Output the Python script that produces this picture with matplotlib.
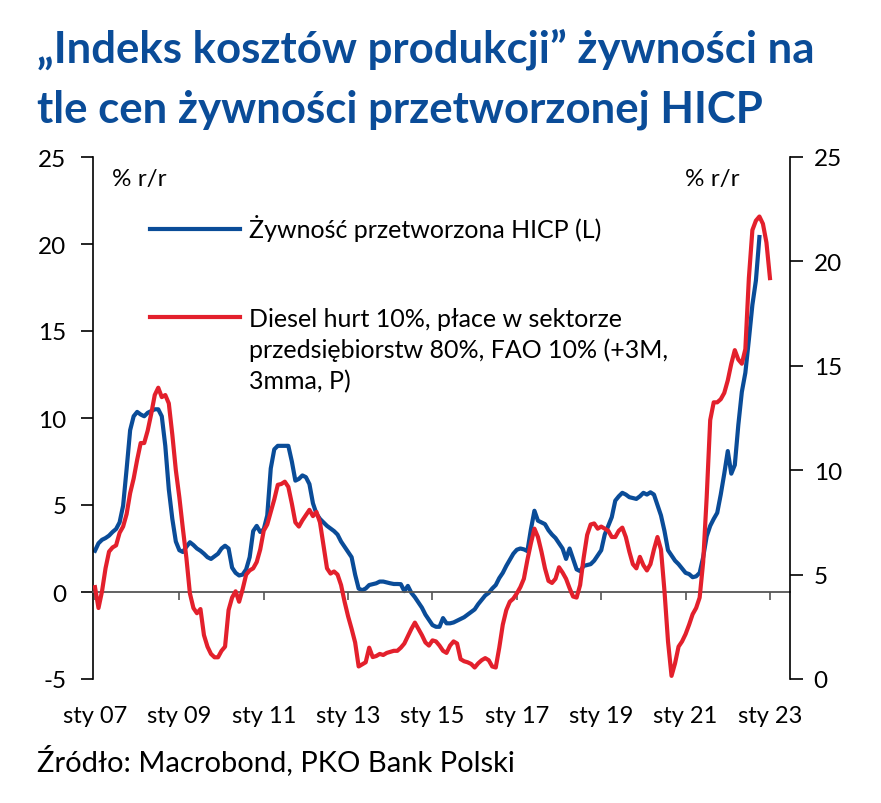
import matplotlib
matplotlib.use("Agg")
import matplotlib.pyplot as plt
from matplotlib.lines import Line2D

# ---------------- data ----------------
start_year = 2007  # both series start Jan 2007, monthly

# Żywność przetworzona HICP, % r/r (left axis)
hicp_processed_food = [
    2.37, 2.8, 3.0, 3.1, 3.24, 3.45, 3.62, 4.0, 4.96, 7.07,
    9.3, 10.1, 10.35, 10.2, 10.1, 10.3, 10.4, 10.5, 10.5, 10.1,
    8.4, 5.9, 4.2, 2.9, 2.4, 2.3, 2.6, 2.86, 2.7, 2.5,
    2.37, 2.2, 2.0, 1.9, 2.05, 2.2, 2.5, 2.66, 2.5, 1.4,
    1.1, 0.95, 1.0, 1.3, 2.0, 3.5, 3.8, 3.45, 3.6, 4.4,
    7.1, 8.2, 8.4, 8.4, 8.4, 8.4, 7.5, 6.4, 6.5, 6.7,
    6.6, 6.2, 5.1, 4.5, 4.2, 4.0, 3.8, 3.65, 3.5, 3.3,
    2.9, 2.6, 2.3, 2.0, 1.0, 0.2, 0.1, 0.2, 0.4, 0.45,
    0.5, 0.6, 0.6, 0.55, 0.5, 0.46, 0.46, 0.45, 0.05, 0.35,
    -0.05, -0.3, -0.6, -0.9, -1.3, -1.6, -1.9, -2.0, -2.0, -1.5,
    -1.8, -1.8, -1.75, -1.65, -1.55, -1.45, -1.3, -1.15, -1.0, -0.7,
    -0.45, -0.2, -0.05, 0.2, 0.4, 0.8, 1.1, 1.5, 1.85, 2.2,
    2.43, 2.5, 2.45, 2.35, 3.6, 4.67, 4.1, 4.0, 3.9, 3.55,
    3.3, 3.1, 2.8, 2.5, 1.9, 2.5, 1.9, 1.3, 1.2, 1.5,
    1.55, 1.6, 1.8, 2.1, 2.4, 3.3, 3.8, 4.3, 5.25, 5.5,
    5.7, 5.6, 5.45, 5.4, 5.35, 5.5, 5.7, 5.6, 5.73, 5.6,
    5.0, 4.4, 3.5, 2.4, 2.1, 1.8, 1.6, 1.35, 1.1, 1.03,
    0.85, 0.9, 1.1, 2.0, 3.2, 3.8, 4.2, 4.55, 5.6, 6.8,
    8.1, 6.8, 7.3, 9.6, 11.5, 12.6, 14.5, 16.5, 17.9, 20.4,
]

# Diesel hurt 10%, płace 80%, FAO 10% (+3M, 3mma), % r/r (right axis)
cost_index = [
    4.4, 3.4, 4.2, 5.3, 6.1, 6.3, 6.4, 7.0, 7.3, 7.9,
    8.9, 9.6, 10.5, 11.3, 11.3, 11.9, 12.7, 13.6, 13.95, 13.5,
    13.6, 13.2, 11.7, 10.0, 8.7, 7.2, 5.8, 4.1, 3.4, 3.15,
    3.35, 2.1, 1.55, 1.2, 1.04, 1.04, 1.35, 1.55, 3.3, 3.9,
    4.2, 3.7, 4.3, 5.0, 5.2, 5.3, 5.6, 6.2, 7.1, 7.4,
    8.0, 8.6, 9.3, 9.34, 9.45, 9.2, 8.4, 7.5, 7.3, 7.6,
    7.85, 8.1, 7.8, 8.0, 7.5, 6.4, 5.3, 5.05, 5.15, 5.0,
    4.5, 3.7, 3.0, 2.4, 1.75, 0.6, 0.7, 0.8, 1.5, 1.05,
    1.1, 1.2, 1.15, 1.25, 1.3, 1.35, 1.35, 1.5, 1.7, 2.05,
    2.4, 2.7, 2.4, 2.1, 1.75, 1.6, 1.85, 1.8, 1.6, 1.35,
    1.25, 1.6, 1.8, 1.7, 0.95, 0.85, 0.8, 0.72, 0.55, 0.75,
    0.9, 1.0, 0.9, 0.6, 0.55, 1.5, 2.6, 3.3, 3.7, 3.85,
    4.1, 4.4, 4.8, 5.7, 6.5, 7.2, 6.8, 6.1, 5.3, 4.7,
    4.6, 4.8, 5.35, 5.1, 4.8, 4.35, 3.95, 3.9, 4.5, 5.8,
    6.9, 7.4, 7.45, 7.2, 7.3, 7.2, 7.1, 6.8, 6.8, 7.1,
    7.25, 6.8, 6.1, 5.5, 5.3, 5.85, 5.45, 5.2, 5.5, 6.2,
    6.8, 6.2, 4.2, 1.8, 0.15, 0.75, 1.55, 1.8, 2.15, 2.6,
    3.1, 3.4, 3.9, 5.6, 8.7, 12.4, 13.25, 13.25, 13.4, 13.7,
    14.3, 15.1, 15.75, 15.3, 15.1, 15.8, 19.2, 21.5, 21.95, 22.15,
    21.8, 20.9, 19.2,
]

tick_years = [2007, 2009, 2011, 2013, 2015, 2017, 2019, 2021, 2023]
tick_labels = ["sty 07", "sty 09", "sty 11", "sty 13", "sty 15",
               "sty 17", "sty 19", "sty 21", "sty 23"]
left_ticks = [-5, 0, 5, 10, 15, 20, 25]
right_ticks = [0, 5, 10, 15, 20, 25]

title_lines = ["\u201eIndeks kosztów produkcji\u201d żywności na",
               "tle cen żywności przetworzonej HICP"]
label_blue = "Żywność przetworzona HICP (L)"
label_red = ["Diesel hurt 10%, płace w sektorze",
             "przedsiębiorstw 80%, FAO 10% (+3M,",
             "3mma, P)"]
source = "Źródło: Macrobond, PKO Bank Polski"

# ---------------- styling ----------------
BLUE = "#0a4c98"
RED = "#e3202c"
FONT = "Lato"
plt.rcParams["font.family"] = [FONT, "DejaVu Sans"]
plt.rcParams["axes.unicode_minus"] = False

x_b = [start_year + i / 12 for i in range(len(hicp_processed_food))]
x_r = [start_year + i / 12 for i in range(len(cost_index))]

W, H = 881, 804
fig = plt.figure(figsize=(W / 100, H / 100), dpi=100)
ax = fig.add_axes([93 / W, (H - 680) / H, 697 / W, 522 / H])
ax2 = ax.twinx()

ax.plot(x_b, hicp_processed_food, color=BLUE, lw=3.0, solid_joinstyle="round")
ax2.plot(x_r, cost_index, color=RED, lw=3.0, solid_joinstyle="round")

ax.set_xlim(2006.953, 2023.475)
ax.set_ylim(-5, 25)
ax2.set_ylim(0, 25)

# spines
ax.spines["top"].set_visible(False)
ax.spines["right"].set_visible(False)
ax.spines["left"].set_color("black")
ax.spines["left"].set_linewidth(1.2)
ax.spines["bottom"].set_position(("data", 0))
ax.spines["bottom"].set_color("#555555")
ax.spines["bottom"].set_linewidth(1.3)
for s in ["top", "bottom", "left"]:
    ax2.spines[s].set_visible(False)
ax2.spines["right"].set_color("black")
ax2.spines["right"].set_linewidth(1.2)

# x ticks on zero line, labels at bottom
ax.set_xticks(tick_years)
ax.tick_params(axis="x", direction="out", length=6, width=1.2,
               color="#555555", labelbottom=False)
sec = ax.secondary_xaxis(0)
sec.set_xticks(tick_years, tick_labels)
sec.tick_params(axis="x", length=0, pad=19, labelsize=17)
sec.spines["bottom"].set_visible(False)

ax.set_yticks(left_ticks)
ax.tick_params(axis="y", direction="out", length=9, width=1.2, labelsize=17.5, pad=10)
ax2.set_yticks(right_ticks)
ax2.tick_params(axis="y", direction="out", length=9, width=1.2, labelsize=17.5, pad=8)

ax.text(0.027, 0.958, "% r/r", transform=ax.transAxes, fontsize=17.5,
        ha="left", va="center")
ax.text(0.928, 0.958, "% r/r", transform=ax.transAxes, fontsize=17.5,
        ha="right", va="center")

# legends
LEG_FS = 18
h_blue = Line2D([], [], color=BLUE, lw=3.0)
h_red = Line2D([], [], color=RED, lw=3.0)
h_none = Line2D([], [], color="none", lw=0)
leg1 = ax.legend([h_blue], [label_blue], loc="center left",
                 bbox_to_anchor=((150 - 93) / 697, (680 - 229) / 522),
                 frameon=False, fontsize=LEG_FS, handlelength=3.6,
                 handletextpad=0.35, borderpad=0, borderaxespad=0)
ax.add_artist(leg1)
ax.legend([h_red, h_none, h_none], label_red, loc="upper left",
          bbox_to_anchor=((150 - 93) / 697, (680 - 308) / 522),
          frameon=False, fontsize=LEG_FS, handlelength=3.6,
          handletextpad=0.35, borderpad=0, borderaxespad=0, labelspacing=0.3)

# title & source
fig.text(37 / W, 1 - 63 / H, title_lines[0], fontsize=31.5, fontweight="bold",
         color=BLUE, va="baseline", ha="left")
fig.text(37 / W, 1 - 122 / H, title_lines[1], fontsize=31.5, fontweight="bold",
         color=BLUE, va="baseline", ha="left")
fig.text(37 / W, 1 - 771 / H, source, fontsize=21, va="baseline", ha="left")

fig.savefig("out.png", dpi=100)
